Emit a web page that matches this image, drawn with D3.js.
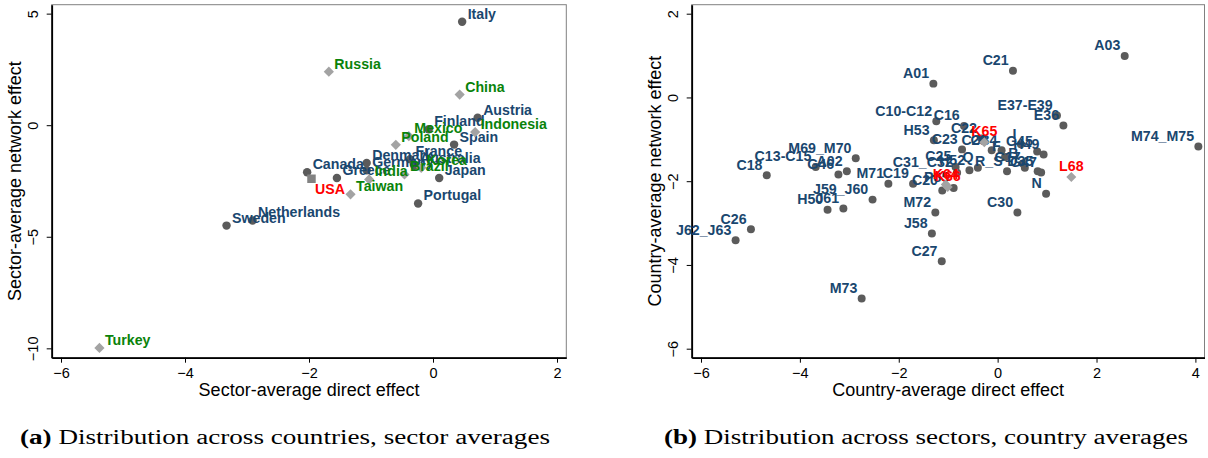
<!DOCTYPE html>
<html>
<head>
<meta charset="utf-8">
<script src="https://cdn.jsdelivr.net/npm/d3@7"></script>
<style>
  body { margin: 0; background: #ffffff; }
  svg { display: block; }
</style>
</head>
<body>
<svg id="chart" width="1208" height="458"></svg>
<script>
// ---------- Panel (a): distribution across countries, sector averages ----------
// Advanced economies (dark circles, blue labels)
const advNames   = ["Italy", "Austria", "Finland", "Spain", "France", "Australia", "Denmark",
                    "Germany", "Canada", "Greece", "Japan", "Portugal", "Netherlands", "Sweden"];
const advDirect  = [0.47, 0.72, -0.07, 0.34, -0.37, -0.30, -1.07, -1.07, -2.03, -1.55, 0.10, -0.24, -2.91, -3.33];
const advNetwork = [4.64, 0.33, -0.18, -0.87, -1.53, -1.82, -1.69, -2.02, -2.11, -2.37, -2.37, -3.51, -4.27, -4.50];

// Emerging economies (light diamonds, green labels)
const emNames   = ["Russia", "China", "Indonesia", "Mexico", "Poland", "Korea", "Brazil", "India", "Taiwan", "Turkey"];
const emDirect  = [-1.68, 0.43, 0.68, -0.39, -0.60, -0.19, -0.46, -1.03, -1.33, -5.38];
const emNetwork = [2.40, 1.37, -0.31, -0.49, -0.88, -1.91, -2.21, -2.43, -3.10, -9.98];

// United States (square, red label)
const usNames   = ["USA"];
const usDirect  = [-1.96];
const usNetwork = [-2.40];

const ticksAX = [-6, -4, -2, 0, 2];
const ticksAY = [-10, -5, 0, 5];

// ---------- Panel (b): distribution across sectors, country averages ----------
const secNames = ["A01", "A02", "A03", "B", "C10-C12", "C13-C15", "C16", "C17", "C18", "C19",
                  "C20", "C21", "C22", "C23", "C25", "C26", "C27", "C28", "C30", "C31_C32",
                  "D35", "E36", "E37-E39", "F", "G45", "G46", "G47", "H49", "H50", "H52",
                  "H53", "I", "J58", "J59_J60", "J61", "J62_J63", "M69_M70", "M71", "M72", "M73",
                  "M74_M75", "N", "O84", "P85", "Q", "R_S"];
const secDirect = [-1.30, -3.05, 2.57, 0.51, -1.24, -3.68, -0.68, 0.55, -4.67, -1.71,
                   -1.12, 0.31, -0.33, -0.72, -0.85, -4.99, -1.13, -0.12, 0.40, -0.82,
                   0.81, 1.33, 1.20, 0.15, 0.80, -3.22, 0.88, 0.93, -3.44, -0.57,
                   -1.29, 0.47, -1.33, -2.53, -3.12, -5.30, -2.87, -2.21, -1.26, -2.75,
                   4.06, 0.98, 0.08, -0.89, -0.40, 0.19];
const secNetwork = [0.33, -1.76, 0.99, -1.58, -0.57, -1.66, -0.68, -1.68, -1.86, -2.06,
                    -2.22, 0.64, -0.98, -1.24, -1.66, -3.15, -3.91, -1.26, -2.75, -1.80,
                    -1.76, -0.67, -0.43, -1.42, -1.29, -1.84, -1.79, -1.36, -2.68, -1.74,
                    -1.02, -1.12, -3.25, -2.44, -2.65, -3.41, -1.45, -2.06, -2.75, -4.80,
                    -1.17, -2.30, -1.26, -2.16, -1.68, -1.76];

// Finance and real estate sectors (diamonds, red labels)
const finNames   = ["K64", "K65", "K66", "L68"];
const finDirect  = [-1.05, -0.27, -1.01, 1.49];
const finNetwork = [-2.08, -1.07, -2.14, -1.90];

const ticksBX = [-6, -4, -2, 0, 2, 4];
const ticksBY = [-6, -4, -2, 0, 2];

// ---------- Styling ----------
const SANS = "'Liberation Sans', Arial, Helvetica, sans-serif";
const SERIF = "'Liberation Serif', 'Times New Roman', serif";
const BLUE = "#1a476f", GREEN = "#0a830a", RED = "#ff0000";
const DARK = "#5b5b5b", LIGHT = "#a3a3a3", MID = "#828282";

const svg = d3.select("#chart");
svg.append("rect").attr("width", 1208).attr("height", 458).attr("fill", "#fff");

function zip(names, xs, ys) {
  return names.map((n, i) => ({ name: n, x: xs[i], y: ys[i] }));
}

function panel(cfg) {
  const x = d3.scaleLinear().domain(cfg.xDomain).range([cfg.left, cfg.right]);
  const y = d3.scaleLinear().domain(cfg.yDomain).range([cfg.bottom, cfg.top]);
  const g = svg.append("g");

  // plot region outline
  g.append("rect")
    .attr("x", cfg.left).attr("y", cfg.top)
    .attr("width", cfg.right - cfg.left).attr("height", cfg.bottom - cfg.top)
    .attr("fill", "none").attr("stroke", "#808080").attr("stroke-width", 1);

  // x axis
  const xa = g.append("g").attr("transform", `translate(0,${cfg.bottom})`)
    .call(d3.axisBottom(x).tickValues(cfg.xTicks).tickSize(5).tickSizeOuter(0).tickPadding(4)
      .tickFormat(d3.format("d")));
  xa.select(".domain").attr("stroke", "#000").attr("stroke-width", 1.8);
  xa.selectAll(".tick line").attr("stroke", "#000").attr("stroke-width", 1);
  xa.selectAll(".tick text")
    .attr("y", 373.3 - cfg.bottom).attr("dy", "0.35em")
    .attr("font-family", SANS).attr("font-size", 14.5).attr("fill", "#000");

  // y axis, tick labels rotated
  const ya = g.append("g").attr("transform", `translate(${cfg.left},0)`)
    .call(d3.axisLeft(y).tickValues(cfg.yTicks).tickSize(5).tickSizeOuter(0)
      .tickFormat(d3.format("d")));
  ya.select(".domain").attr("stroke", "#000").attr("stroke-width", 1.8);
  ya.selectAll(".tick line").attr("stroke", "#000").attr("stroke-width", 1);
  ya.selectAll(".tick text")
    .attr("transform", "rotate(-90)")
    .attr("x", 0).attr("y", -(cfg.left - cfg.yTickX)).attr("dy", "0.35em")
    .attr("text-anchor", "middle")
    .attr("font-family", SANS).attr("font-size", 14.5).attr("fill", "#000");

  // axis titles
  g.append("text")
    .attr("x", (cfg.left + cfg.right) / 2).attr("y", 389.5).attr("dy", "0.35em")
    .attr("text-anchor", "middle").attr("font-family", SANS).attr("font-size", 18)
    .attr("fill", "#000").text(cfg.xTitle);
  g.append("text")
    .attr("transform", `translate(${cfg.yTitleX},${(cfg.top + cfg.bottom) / 2}) rotate(-90)`)
    .attr("dy", "0.35em")
    .attr("text-anchor", "middle").attr("font-family", SANS).attr("font-size", 18)
    .attr("fill", "#000").text(cfg.yTitle);

  // series: markers, then their labels
  cfg.series.forEach(s => {
    const sg = g.append("g");
    const sym = d3.symbol().type(s.shape === "circle" ? d3.symbolCircle : d3.symbolSquare).size(s.size);
    sg.selectAll("path.mk").data(s.data).join("path")
      .attr("class", "mk")
      .attr("d", sym)
      .attr("transform", d => `translate(${x(d.x)},${y(d.y)})` + (s.rotate ? " rotate(45)" : ""))
      .attr("fill", s.fill);
    sg.selectAll("text.lb").data(s.data).join("text")
      .attr("class", "lb")
      .attr("x", d => x(d.x) + s.dx)
      .attr("y", d => y(d.y) + s.dy)
      .attr("dy", "0.35em")
      .attr("text-anchor", s.anchor)
      .attr("font-family", SANS).attr("font-size", 14.2).attr("font-weight", "bold")
      .attr("fill", s.color)
      .text(d => d.name);
  });
}

panel({
  left: 51.7, right: 566.3, top: 4.7, bottom: 357.7,
  xDomain: [-6.15, 2.15], yDomain: [-10.42, 5.40],
  xTicks: ticksAX, yTicks: ticksAY,
  yTickX: 33.3, yTitleX: 14.5,
  xTitle: "Sector-average direct effect",
  yTitle: "Sector-average network effect",
  series: [
    { data: zip(advNames, advDirect, advNetwork), shape: "circle", size: 56, fill: DARK,
      color: BLUE, dx: 5.5, dy: -8, anchor: "start" },
    { data: zip(emNames, emDirect, emNetwork), shape: "square", rotate: true, size: 52, fill: LIGHT,
      color: GREEN, dx: 5.5, dy: -8, anchor: "start" },
    { data: zip(usNames, usDirect, usNetwork), shape: "square", size: 72, fill: MID,
      color: RED, dx: 3.5, dy: 10.5, anchor: "start" }
  ]
});

panel({
  left: 691.7, right: 1204.5, top: 4.7, bottom: 357.7,
  xDomain: [-6.188, 4.184], yDomain: [-6.215, 2.215],
  xTicks: ticksBX, yTicks: ticksBY,
  yTickX: 673.3, yTitleX: 654.5,
  xTitle: "Country-average direct effect",
  yTitle: "Country-average network effect",
  series: [
    { data: zip(secNames, secDirect, secNetwork), shape: "circle", size: 50, fill: DARK,
      color: BLUE, dx: -4.3, dy: -10.5, anchor: "end" },
    { data: zip(finNames, finDirect, finNetwork), shape: "square", rotate: true, size: 50, fill: LIGHT,
      color: RED, dx: 0, dy: -10.8, anchor: "middle" }
  ]
});

// ---------- Sub-figure captions ----------
function caption(xPos, width, tag, body) {
  const t = svg.append("text")
    .attr("x", xPos).attr("y", 444)
    .attr("font-family", SERIF).attr("font-size", 20).attr("fill", "#000")
    .attr("textLength", width).attr("lengthAdjust", "spacingAndGlyphs");
  t.append("tspan").attr("font-weight", "bold").text(tag);
  t.append("tspan").text(" " + body);
}
caption(20, 530, "(a)", "Distribution across countries, sector averages");
caption(664, 524, "(b)", "Distribution across sectors, country averages");
</script>
</body>
</html>
